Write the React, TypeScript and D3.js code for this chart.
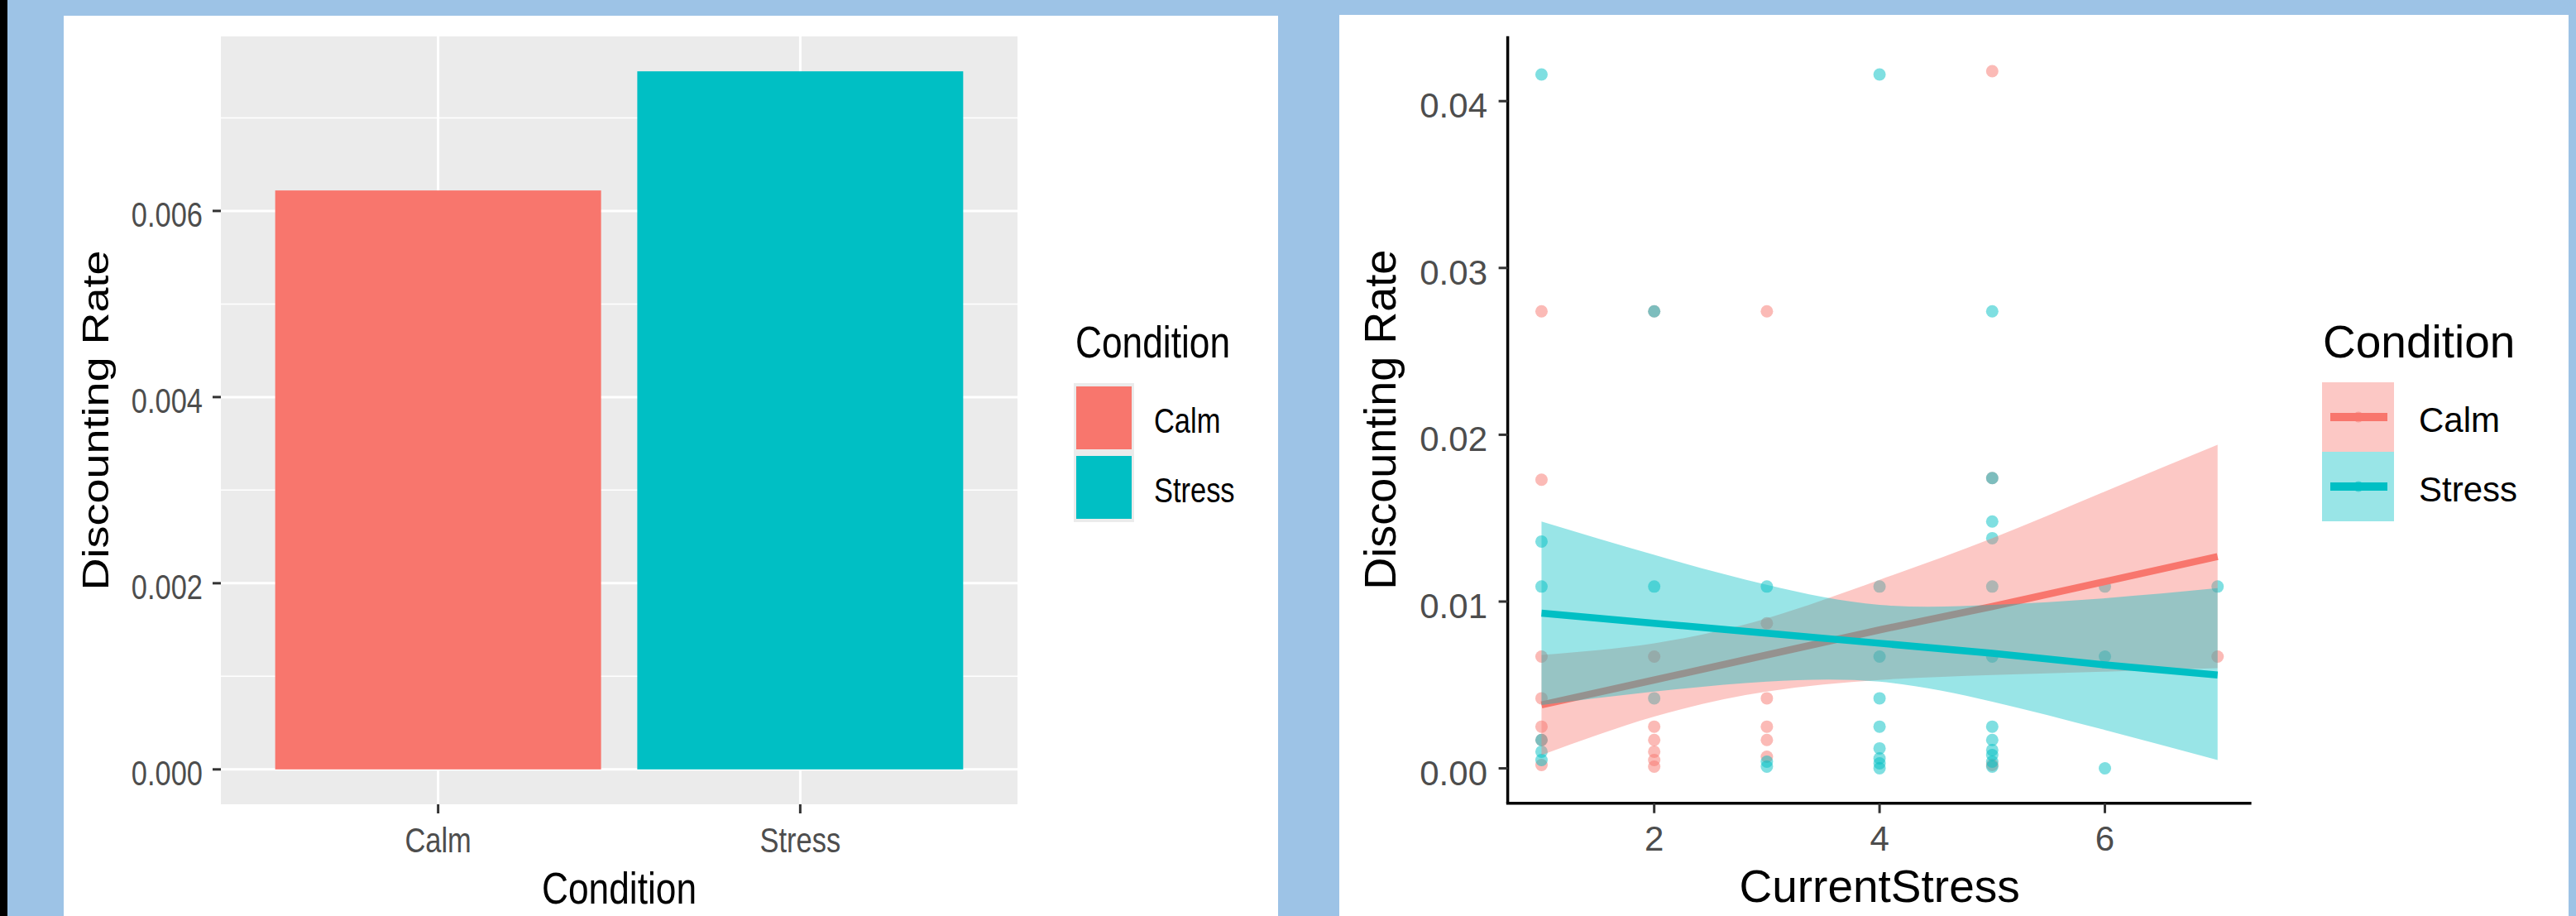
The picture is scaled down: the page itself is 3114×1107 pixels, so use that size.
import * as d3 from "d3";

// bar chart: mean discounting rate per condition
const conditions = ["Calm", "Stress"];
const meanRate = [0.00622, 0.0075];
const barTicks = [0, 0.002, 0.004, 0.006];
const barMinorTicks = [0.001, 0.003, 0.005, 0.007];

// scatter: CurrentStress vs discounting rate
const calmX = [1, 1, 1, 1, 1, 1, 1, 2, 2, 2, 2, 2, 2, 2, 3, 3, 3, 3, 3, 3, 5, 5, 5, 7];
const calmRate = [
  0.0274, 0.0173, 0.0067, 0.0042, 0.0025, 0.0017, 0.0002,
  0.0274, 0.0067, 0.0025, 0.0017, 0.001, 0.0005, 0.0001,
  0.0274, 0.0087, 0.0042, 0.0025, 0.0017, 0.0007,
  0.0418, 0.0174, 0.0002,
  0.0067,
];
const stressX = [
  1, 1, 1, 1, 1, 1, 2, 2, 2, 3, 3, 3, 4, 4, 4, 4, 4, 4, 4, 4, 4,
  5, 5, 5, 5, 5, 5, 5, 5, 5, 5, 5, 5, 6, 6, 6, 7,
];
const stressRate = [
  0.0416, 0.0136, 0.0109, 0.0017, 0.001, 0.0005,
  0.0274, 0.0109, 0.0042,
  0.0109, 0.0004, 0.0001,
  0.0416, 0.0109, 0.0067, 0.0042, 0.0025, 0.0012, 0.0006, 0.0003, 0.0,
  0.0274, 0.0174, 0.0148, 0.0138, 0.0109, 0.0067, 0.0025, 0.0017, 0.0011, 0.0008, 0.0004, 0.0001,
  0.0109, 0.0067, 0.0,
  0.0109,
];

// lm fits with confidence bands, read at each CurrentStress level
const fitX = [1, 2, 3, 4, 5, 6, 7];
const calmFit = [0.0038, 0.0053, 0.0068, 0.0083, 0.0097, 0.0112, 0.0127];
const calmLower = [0.0008, 0.0031, 0.0046, 0.0053, 0.0056, 0.0058, 0.006];
const calmUpper = [0.0068, 0.0075, 0.009, 0.0113, 0.0138, 0.0166, 0.0194];
const stressFit = [0.0093, 0.0087, 0.0081, 0.0075, 0.0069, 0.0062, 0.0056];
const stressLower = [0.0038, 0.0046, 0.0052, 0.0052, 0.004, 0.0023, 0.0005];
const stressUpper = [0.0148, 0.0128, 0.011, 0.0098, 0.0098, 0.0102, 0.0108];

const scatterYTicks = [0, 0.01, 0.02, 0.03, 0.04];
const scatterXTicks = [2, 4, 6];

const colors = ["#F8766D", "#00BFC4"];
const FONT = '"Liberation Sans", Arial, Helvetica, sans-serif';
const SQ = 0.82; // left picture is squeezed horizontally

function BarChart() {
  const left = 267, right = 1230, top = 44, bottom = 972;
  const maxV = d3.max(meanRate) as number;
  const y = d3.scaleLinear().domain([-0.05 * maxV, 1.05 * maxV]).range([bottom, top]);
  const x = d3
    .scaleBand()
    .domain(conditions)
    .range([left, right])
    .paddingInner(0.1)
    .paddingOuter(0.15);
  const fmt = d3.format(".3f");

  return (
    <g>
      <rect x={left} y={top} width={right - left} height={bottom - top} fill="#EBEBEB" />
      {barMinorTicks.map((t) => (
        <line key={"m" + t} x1={left} x2={right} y1={y(t)} y2={y(t)} stroke="#fff" strokeWidth={1.5} />
      ))}
      {barTicks.map((t) => (
        <line key={"g" + t} x1={left} x2={right} y1={y(t)} y2={y(t)} stroke="#fff" strokeWidth={3} />
      ))}
      {conditions.map((c) => (
        <line
          key={"v" + c}
          x1={x(c)! + x.bandwidth() / 2}
          x2={x(c)! + x.bandwidth() / 2}
          y1={top}
          y2={bottom}
          stroke="#fff"
          strokeWidth={3}
        />
      ))}
      {conditions.map((c, i) => (
        <rect
          key={"b" + c}
          x={x(c)}
          y={y(meanRate[i])}
          width={x.bandwidth()}
          height={y(0) - y(meanRate[i])}
          fill={colors[i]}
        />
      ))}
      {barTicks.map((t) => (
        <g key={"t" + t}>
          <line x1={257} x2={left} y1={y(t)} y2={y(t)} stroke="#333" strokeWidth={3} />
          <text
            transform={`translate(245,${y(t) + 19}) scale(${SQ},1)`}
            textAnchor="end"
            fontSize={42}
            fill="#4D4D4D"
          >
            {fmt(t)}
          </text>
        </g>
      ))}
      {conditions.map((c) => {
        const cx = x(c)! + x.bandwidth() / 2;
        return (
          <g key={"xt" + c}>
            <line x1={cx} x2={cx} y1={bottom} y2={bottom + 11} stroke="#333" strokeWidth={3} />
            <text
              transform={`translate(${cx},1030) scale(${SQ},1)`}
              textAnchor="middle"
              fontSize={42}
              fill="#4D4D4D"
            >
              {c}
            </text>
          </g>
        );
      })}
      <text
        transform={`translate(${(left + right) / 2},1092) scale(${SQ},1)`}
        textAnchor="middle"
        fontSize={54}
        fill="#000"
      >
        Condition
      </text>
      <text
        transform={`translate(131,${(top + bottom) / 2}) scale(${SQ},1) rotate(-90)`}
        textAnchor="middle"
        fontSize={54}
        fill="#000"
      >
        Discounting Rate
      </text>

      {/* legend */}
      <text transform={`translate(1300,432) scale(${SQ},1)`} fontSize={54} fill="#000">
        Condition
      </text>
      {conditions.map((c, i) => (
        <g key={"lg" + c}>
          <rect x={1298} y={463 + i * 84} width={73} height={84} fill="#EBEBEB" />
          <rect x={1301} y={467 + i * 84} width={67} height={76} fill={colors[i]} />
          <text
            transform={`translate(1395,${523 + i * 84}) scale(${SQ},1)`}
            fontSize={42}
            fill="#000"
          >
            {c}
          </text>
        </g>
      ))}
    </g>
  );
}

function ScatterChart() {
  const left = 1822.6, right = 2721.6, top = 43.8, bottom = 970.7;
  const xMin = d3.min(fitX) as number;
  const xMax = d3.max(fitX) as number;
  const xPad = (xMax - xMin) * 0.05;
  const yMax = d3.max([...calmRate, ...stressRate]) as number;
  const yMin = d3.min([...calmRate, ...stressRate]) as number;
  const yPad = (yMax - yMin) * 0.05;
  const x = d3.scaleLinear().domain([xMin - xPad, xMax + xPad]).range([left, right]);
  const y = d3.scaleLinear().domain([yMin - yPad, yMax + yPad]).range([bottom, top]);
  const fmt = d3.format(".2f");

  const groups = [
    { name: "Calm", px: calmX, py: calmRate, fit: calmFit, lo: calmLower, hi: calmUpper },
    { name: "Stress", px: stressX, py: stressRate, fit: stressFit, lo: stressLower, hi: stressUpper },
  ];

  const area = (lo: number[], hi: number[]) =>
    d3
      .area<number>()
      .x((d) => x(d))
      .y0((d, i) => y(lo[i]))
      .y1((d, i) => y(hi[i]))
      .curve(d3.curveNatural)(fitX) as string;
  const line = (fit: number[]) =>
    d3
      .line<number>()
      .x((d) => x(d))
      .y((d, i) => y(fit[i]))(fitX) as string;

  return (
    <g>
      {groups.map((g, gi) => (
        <g key={"p" + g.name}>
          {g.px.map((v, i) => (
            <circle key={i} cx={x(v)} cy={y(g.py[i])} r={7.5} fill={colors[gi]} fillOpacity={0.5} />
          ))}
        </g>
      ))}
      {groups.map((g, gi) => (
        <g key={"s" + g.name}>
          <path d={area(g.lo, g.hi)} fill={colors[gi]} fillOpacity={0.4} />
          <path d={line(g.fit)} fill="none" stroke={colors[gi]} strokeWidth={8.5} />
        </g>
      ))}

      <line x1={left} x2={left} y1={top} y2={bottom} stroke="#000" strokeWidth={3.5} />
      <line x1={left - 1.75} x2={right} y1={bottom} y2={bottom} stroke="#000" strokeWidth={3.5} />
      {scatterYTicks.map((t) => (
        <g key={"yt" + t}>
          <line x1={left - 11} x2={left} y1={y(t)} y2={y(t)} stroke="#333" strokeWidth={3} />
          <text x={1798} y={y(t) + 20} textAnchor="end" fontSize={42} fill="#4D4D4D">
            {fmt(t)}
          </text>
        </g>
      ))}
      {scatterXTicks.map((t) => (
        <g key={"xt" + t}>
          <line x1={x(t)} x2={x(t)} y1={bottom} y2={bottom + 12} stroke="#333" strokeWidth={3} />
          <text x={x(t)} y={1028} textAnchor="middle" fontSize={42} fill="#4D4D4D">
            {t}
          </text>
        </g>
      ))}
      <text x={(left + right) / 2} y={1090} textAnchor="middle" fontSize={55} fill="#000">
        CurrentStress
      </text>
      <text
        transform={`translate(1687,${(top + bottom) / 2}) rotate(-90)`}
        textAnchor="middle"
        fontSize={54}
        fill="#000"
      >
        Discounting Rate
      </text>

      {/* legend */}
      <text x={2808} y={432} fontSize={55} fill="#000">
        Condition
      </text>
      {conditions.map((c, i) => (
        <g key={"lg" + c}>
          <rect x={2807} y={462 + i * 84} width={87} height={84} fill={colors[i]} fillOpacity={0.4} />
          <circle cx={2851} cy={504 + i * 84} r={6.5} fill={colors[i]} fillOpacity={0.5} />
          <line
            x1={2817}
            x2={2886}
            y1={504 + i * 84}
            y2={504 + i * 84}
            stroke={colors[i]}
            strokeWidth={10}
          />
          <text x={2924} y={522 + i * 84} fontSize={42} fill="#000">
            {c}
          </text>
        </g>
      ))}
    </g>
  );
}

export default function App() {
  return (
    <svg
      width={3114}
      height={1107}
      style={{ position: "absolute", left: 0, top: 0, display: "block" }}
      fontFamily={FONT}
    >
      <rect x={0} y={0} width={3114} height={1107} fill="#9DC3E6" />
      <rect x={0} y={0} width={9} height={1107} fill="#000" />
      <rect x={77} y={19} width={1468} height={1088} fill="#fff" />
      <rect x={1619} y={18} width={1486} height={1089} fill="#fff" />
      <BarChart />
      <ScatterChart />
    </svg>
  );
}
